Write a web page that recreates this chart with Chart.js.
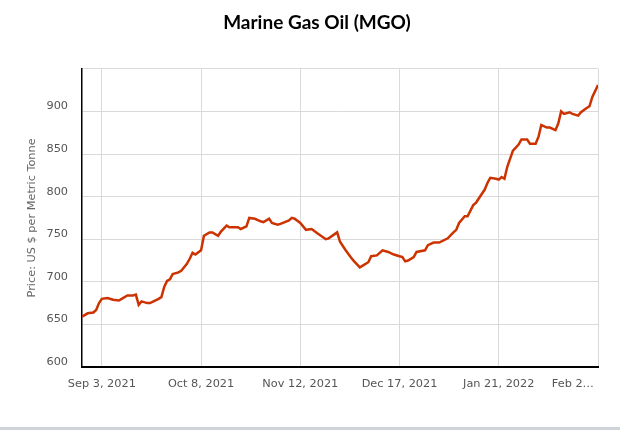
<!DOCTYPE html>
<html><head><meta charset="utf-8">
<script src="https://cdn.jsdelivr.net/npm/chart.js@4.4.1/dist/chart.umd.min.js"></script>
<style>
html,body{margin:0;padding:0;background:#fff;overflow:hidden;}
#wrap{width:620px;height:430px;position:relative;}
#strip{position:absolute;left:0;top:427px;width:620px;height:3px;background:#cfd3da;}
</style>
</head><body>
<div id="wrap"><canvas id="c"></canvas><div id="strip"></div></div>
<script>
// Days counted from Aug 27, 2021
const dayOffsets = [0,2,4,5,6,7,9,11,13,14,16,18,19,20,21,23,24,27,28,29,30,31,32,34,35,37,38,39,40,42,
  43,45,46,48,49,51,52,55,56,58,59,61,63,64,66,67,69,70,73,74,75,77,79,81,83,86,87,90,91,93,95,96,98,99,
  101,102,104,106,108,110,112,113,114,115,117,118,121,122,124,126,129,131,132,133,135,136,138,139,141,142,
  143,144,146,147,148,149,150,152,154,155,157,158,160,161,162,164,165,167,168,169,170,172,173,175,176,178,179,180,182];
const prices = [659,663,664,667,675,680,681,679,678,680,684,684,685,673,677,675,675,680,682,694,701,703,709,711,713,721,727,734,732,737,
  754,758,758,754,759,766,764,764,762,765,775,774,771,770,774,769,767,768,772,775,774,769,761,762,757,750,751,758,747,737,728,724,717,719,
  723,730,731,737,735,732,730,729,724,725,729,735,737,743,746,746,751,758,761,769,777,777,790,793,803,808,
  816,822,821,820,823,821,835,854,861,867,867,862,862,870,884,881,881,878,886,900,897,899,897,895,899,904,906,917,931];
const tickDays = [7,42,77,112,147,182];
const tickLabels = ['Sep 3, 2021','Oct 8, 2021','Nov 12, 2021','Dec 17, 2021','Jan 21, 2022','Feb 2\u2026'];
const yTicks = [600,650,700,750,800,850,900,950];
const yLabelled = [600,650,700,750,800,850,900];

const points = dayOffsets.map((d,i)=>({x:d,y:prices[i]}));
const tickFont = {family:'"DejaVu Sans", Verdana, sans-serif', size:11.3};

new Chart(document.getElementById('c'), {
  type:'line',
  data:{datasets:[{data:points,borderColor:'#cc3300',borderWidth:2.5,pointRadius:0,tension:0,fill:false}]},
  options:{
    responsive:true,maintainAspectRatio:false,animation:false,
    layout:{padding:{left:36,right:22,top:0,bottom:0}},
    plugins:{
      legend:{display:false},tooltip:{enabled:false},
      title:{display:true,text:'Marine Gas Oil (MGO)',color:'#000',
        font:{family:'Lato, "Open Sans", sans-serif',weight:'bold',size:19},
        padding:{top:11,bottom:35}}
    },
    scales:{
      x:{type:'linear',min:0,max:182,
        afterBuildTicks:(s)=>{s.ticks=tickDays.map(v=>({value:v}));},
        ticks:{autoSkip:false,maxRotation:0,color:'#555',font:tickFont,padding:10,
          callback:(v)=>{const i=tickDays.indexOf(v);if(i<0)return '';return i===tickLabels.length-1?tickLabels[i]+'              ':tickLabels[i];}},
        grid:{color:'#d9d9d9',drawTicks:false},
        border:{color:'#000',width:2},
        afterFit:(s)=>{s.height=63;s.paddingLeft=0;s.paddingRight=0;}
      },
      y:{min:600,max:950,
        afterBuildTicks:(s)=>{s.ticks=yTicks.map(v=>({value:v}));},
        ticks:{color:'#555',font:tickFont,padding:14,labelOffset:-5,
          callback:(v)=>yLabelled.includes(v)?String(v):''},
        grid:{color:'#d9d9d9',drawTicks:false},
        border:{color:'#000',width:1.5},
        title:{display:true,text:'Price: US $ per Metric Tonne',color:'#666',
          font:{family:'"DejaVu Sans", Verdana, sans-serif',size:11.3},padding:{top:-11,bottom:0}},
        afterFit:(s)=>{s.width=46;}
      }
    }
  }
});
</script>
</body></html>
